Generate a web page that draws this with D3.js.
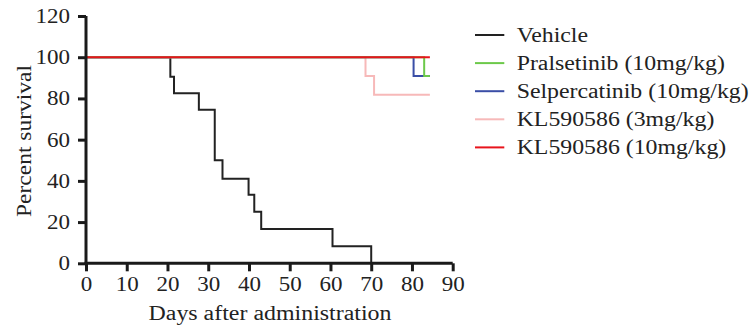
<!DOCTYPE html>
<html><head><meta charset="utf-8">
<script src="https://cdn.jsdelivr.net/npm/d3@7"></script>
<style>body{margin:0;background:#fff;} svg{display:block;} text{font-family:"Liberation Serif","Times New Roman",serif;fill:#222;}</style>
</head><body><svg id="c" width="752" height="326"></svg>
<script>
const seriesNames = ["Vehicle","Pralsetinib (10mg/kg)","Selpercatinib (10mg/kg)","KL590586 (3mg/kg)","KL590586 (10mg/kg)"];
const seriesColors = ["#222222","#6cc94a","#3a4ea6","#f7b9b9","#e8141c"];
const vehicleDays = [0,20.7,21.6,27.7,31.6,33.5,39.9,41.3,43,60.5,70];
const vehicleSurv = [100,90.5,82.5,74.5,50,41,33.3,25,16.7,8.3,0];
const pralDays = [0,83,84.4];
const pralSurv = [100,90.9,90.9];
const selpDays = [0,80.4,84.4];
const selpSurv = [100,90.9,90.9];
const kl3Days = [0,68.6,70.7,84.4];
const kl3Surv = [100,90.9,81.8,81.8];
const kl10Days = [0,84.4];
const kl10Surv = [100,100];
const xTicks = [0,10,20,30,40,50,60,70,80,90];
const yTicks = [0,20,40,60,80,100,120];

const svg = d3.select("#c");
const x = d3.scaleLinear().domain([0,90]).range([86,452.7]);
const y = d3.scaleLinear().domain([0,120]).range([263.3,16]);

function stretch(sel, f){
  sel.each(function(){
    const w = this.getComputedTextLength();
    d3.select(this).attr("textLength", w*f).attr("lengthAdjust","spacingAndGlyphs");
  });
}

const series = [
  {i:0, d:vehicleDays, s:vehicleSurv},
  {i:3, d:kl3Days, s:kl3Surv},
  {i:2, d:selpDays, s:selpSurv},
  {i:1, d:pralDays, s:pralSurv},
  {i:4, d:kl10Days, s:kl10Surv}
];
const line = d3.line().x(p=>x(p[0])).y(p=>y(p[1])).curve(d3.curveStepAfter);
series.forEach(sr=>{
  svg.append("path").attr("d", line(sr.d.map((v,k)=>[v, sr.s[k]])))
    .attr("fill","none").attr("stroke",seriesColors[sr.i]).attr("stroke-width",2);
});

const xa = svg.append("g").attr("transform",`translate(0,${y(0)})`)
  .call(d3.axisBottom(x).tickValues(xTicks).tickSize(8).tickPadding(6).tickSizeOuter(0));
const ya = svg.append("g").attr("transform",`translate(${x(0)},0)`)
  .call(d3.axisLeft(y).tickValues(yTicks).tickSize(8).tickPadding(8).tickSizeOuter(0));
[xa,ya].forEach(a=>{
  a.select(".domain").attr("stroke","#1a1a1a").attr("stroke-width",3);
  a.selectAll(".tick line").attr("stroke","#1a1a1a").attr("stroke-width",3);
  a.selectAll(".tick text").style("font-family",'"Liberation Serif",serif').style("font-size","20px").attr("fill","#222");
  stretch(a.selectAll(".tick text"), 1.15);
});
xa.select(".domain").attr("d",`M${x(0)-1.5},0H${x(90)}`);
ya.select(".domain").attr("d",`M0,${y(0)+1.5}V${y(120)}`);

const xt = svg.append("text").attr("x",270).attr("y",320).attr("text-anchor","middle")
  .style("font-size","20.5px").text("Days after administration");
xt.attr("textLength",243).attr("lengthAdjust","spacingAndGlyphs");
const yt = svg.append("text").attr("transform","translate(31,141) rotate(-90)").attr("text-anchor","middle")
  .style("font-size","20.5px").text("Percent survival");
yt.attr("textLength",152).attr("lengthAdjust","spacingAndGlyphs");

const lg = svg.append("g");
seriesNames.forEach((n,k)=>{
  const cy = 35 + k*28.1;
  lg.append("line").attr("x1",475).attr("x2",504.3).attr("y1",cy).attr("y2",cy)
    .attr("stroke",seriesColors[k]).attr("stroke-width",2);
  const t = lg.append("text").attr("x",516.7).attr("y",cy+6.5).style("font-size","20px").text(n);
  stretch(t, 1.19);
});
</script></body></html>
